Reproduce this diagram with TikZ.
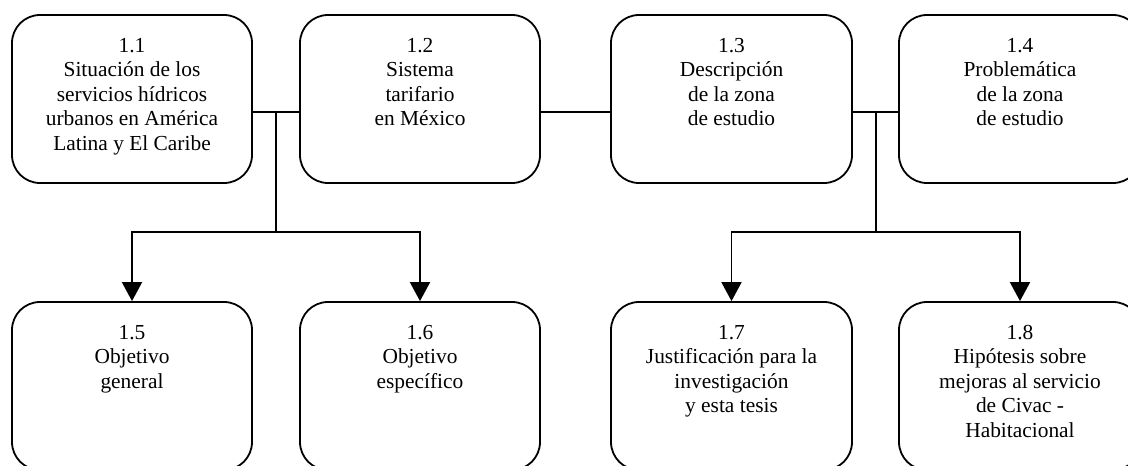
\documentclass[tikz,border=0pt]{standalone}
\usepackage{fontspec}
\setmainfont{Liberation Serif}
\usetikzlibrary{arrows.meta}
\tikzset{
  boxnode/.style={draw, line width=1.8pt, rounded corners=28pt, inner sep=0pt,
                  minimum width=#1, minimum height=168pt},
  conn/.style={line width=1.8pt},
  arr/.style={conn, -{Triangle[width=20pt,length=19pt]}},
}
\newcommand{\boxtext}[2]{\parbox[c][168pt][t]{#1}{\centering\fontsize{21.4}{24.5}\selectfont\vspace*{23pt}#2\par}}
\begin{document}
\begin{tikzpicture}[x=1pt,y=-1pt]
\useasboundingbox (0,0) rectangle (1128,466);
\clip (0,0) rectangle (1128,466);
% top row
\node[boxnode=240pt] (b11) at (132,99) {\boxtext{236pt}{1.1\\Situación de los\\servicios hídricos\\urbanos en América\\Latina y El Caribe}};
\node[boxnode=240pt] (b12) at (420,99) {\boxtext{236pt}{1.2\\Sistema\\tarifario\\en México}};
\node[boxnode=241pt] (b13) at (731.5,99) {\boxtext{237pt}{1.3\\Descripción\\de la zona\\de estudio}};
\node[boxnode=242pt] (b14) at (1020,99) {\boxtext{238pt}{1.4\\Problemática\\de la zona\\de estudio}};
% bottom row
\node[boxnode=240pt] (b15) at (132,386) {\boxtext{236pt}{1.5\\Objetivo\\general}};
\node[boxnode=240pt] (b16) at (420,386) {\boxtext{236pt}{1.6\\Objetivo\\específico}};
\node[boxnode=241pt] (b17) at (731.5,386) {\boxtext{237pt}{1.7\\Justificación para la\\investigación\\y esta tesis}};
\node[boxnode=242pt] (b18) at (1020,386) {\boxtext{238pt}{1.8\\Hipótesis sobre\\mejoras al servicio\\de Civac -\\Habitacional}};
% junctions
\coordinate (j1) at (276,112);
\coordinate (j2) at (876,112);
\coordinate (k1) at (276,232);
\coordinate (k2) at (876,232);
% connectors
\draw[conn] (b11.east |- j1) -- (b12.west |- j1);
\draw[conn] (b12.east |- j1) -- (b13.west |- j1);
\draw[conn] (b13.east |- j2) -- (b14.west |- j2);
\draw[conn] (j1) -- (k1);
\draw[conn] (j2) -- (k2);
\draw[arr] (k1) -| (b15.north);
\draw[arr] (k1) -| (b16.north);
\draw[arr] (k2) -| (b17.north);
\draw[arr] (k2) -| (b18.north);
\end{tikzpicture}
\end{document}
